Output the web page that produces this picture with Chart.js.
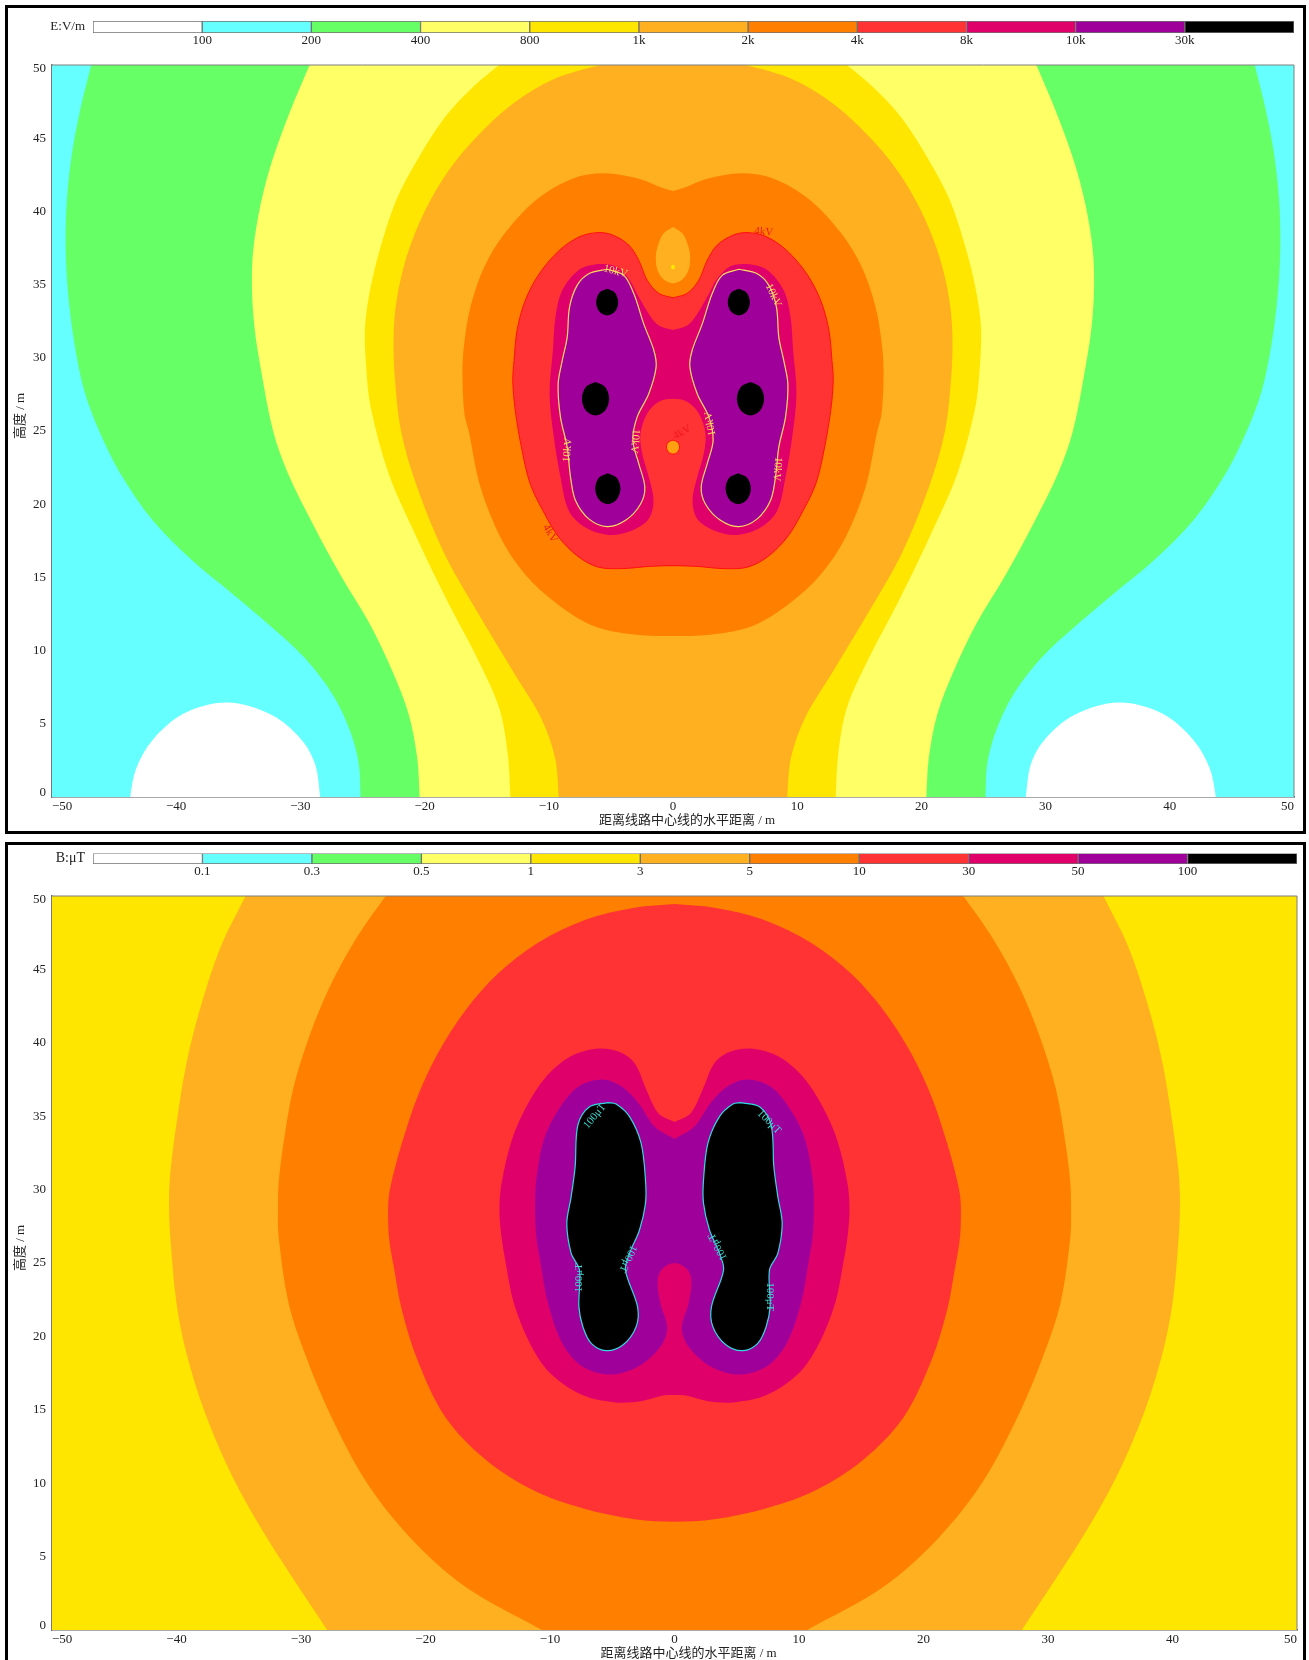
<!DOCTYPE html>
<html><head><meta charset="utf-8">
<script src="https://cdn.jsdelivr.net/npm/chart.js@4"></script>
<style>
html,body{margin:0;padding:0;background:#fff;width:1309px;height:1660px;overflow:hidden}
.frame{position:absolute;box-sizing:border-box;border:3px solid #000;background:#fff}
canvas{position:absolute;left:0}
</style></head><body>
<div class="frame" style="left:5px;top:5px;width:1301px;height:829px"></div>
<div class="frame" style="left:5px;top:842px;width:1301px;height:830px"></div>
<canvas id="barE" width="1309" height="60" style="top:0"></canvas>
<canvas id="mapE" width="1309" height="835" style="top:0"></canvas>
<canvas id="barB" width="1309" height="60" style="top:837px"></canvas>
<canvas id="mapB" width="1309" height="823" style="top:837px"></canvas>
<script>
// ---- colour bands (legend order) ----
const bandColors = ['#FFFFFF','#66FFFF','#66FF66','#FFFF66','#FFE600','#FFB020','#FF8000','#FF3333','#E0006A','#A0009A','#000000'];
const ticksE = ['100','200','400','800','1k','2k','4k','8k','10k','30k'];
const ticksB = ['0.1','0.3','0.5','1','3','5','10','30','50','100'];
const xTicks = [-50,-40,-30,-20,-10,0,10,20,30,40,50];
const yTicks = [0,5,10,15,20,25,30,35,40,45,50];
const xTitle = '距离线路中心线的水平距离 / m';
const yTitle = '高度 / m';

// ---- E field contours: right half, from the centre line at the top to the centre line at the bottom ----
const e200 = [[0,60],[44,56],[46.2,52.2],[46.84,50],[47.74,46.9],[48.4,43.9],[48.8,40.75],[48.9,37.6],[48.7,34.4],[48.2,31],[47.4,27.75],[46.2,25],[44.5,22.1],[41.9,18.9],[38.7,16.15],[35.5,13.9],[32.3,11.6],[29.7,9.55],[27.4,7],[26,4.5],[25.3,2.25],[25.16,0],[25.1,-2],[24,-4],[0,-6]];
const e400 = [[0,60],[26,56],[28.26,52],[29.26,50],[30.8,46.9],[32.26,43.5],[33.2,40.5],[33.8,37.35],[33.9,34.8],[33.7,32.1],[33.2,29.3],[32.2,25],[31,22.1],[29,18.65],[26.8,15.2],[24.4,11.8],[22.6,8.6],[21.3,5.7],[20.6,2.7],[20.4,0],[20.3,-2],[19,-4],[0,-6]];
const e800 = [[0,60],[9,53],[12,51.4],[14,50],[16.1,48.5],[18.4,46.4],[20.6,43.5],[22.3,40.75],[23.55,37.55],[24.35,34.8],[24.8,32.1],[24.7,29.35],[24.35,26.65],[22.9,22.1],[20.65,17.75],[18.06,13.2],[15.8,9.55],[14,6.1],[13.3,2.9],[13.1,0],[13,-2],[12,-4],[0,-6]];
const e1k  = [[0,50.6],[3,50.4],[5.8,50],[9.7,49],[12.9,47.35],[15.8,45.1],[18.06,42.8],[20,40],[21.45,36.9],[22.26,33.9],[22.5,31.4],[22.4,28.7],[21.9,25],[20.6,21.15],[18.4,16.6],[15.8,12.7],[12.9,8.6],[10.65,5.44],[9.5,2.7],[9.2,0],[9.1,-2],[8,-4],[0,-6]];
const e2k  = [[0,41.4],[1,41.65],[2.6,42.2],[5.5,42.6],[8.06,42.25],[11,40.8],[13.55,38.5],[15.2,36.2],[16.3,33.5],[16.85,30.7],[16.95,28.7],[16.8,26.2],[16.45,25],[15.5,21.15],[13.9,17.75],[11.9,15.2],[9.35,13.2],[6.45,11.7],[3.2,11.1],[0,11]];
const e2kHoleTop = [[0,38.93],[0.75,38.5],[1.2,37.7],[1.38,36.9],[1.25,36],[0.75,35.35],[0,35.1]];
const e4k  = [[0,34.1],[1.14,34.4],[2.08,35.3],[2.75,36.65],[3.56,37.7],[4.9,38.4],[6.1,38.55],[7.58,38.25],[9.2,37.3],[10.8,35.7],[11.9,33.9],[12.55,31.9],[12.8,29.8],[12.9,28.45],[12.7,26.4],[12.15,23.65],[11.5,21.4],[10.5,19.6],[9.2,17.75],[7.6,16.4],[6,15.7],[4.1,15.6],[1.95,15.75],[0,15.8]];
const e8k  = [[0,31.9],[1.14,32.2],[1.95,33],[2.75,34.15],[3.56,35.4],[4.63,36.25],[5.97,36.4],[7.58,36],[8.92,34.6],[9.46,32.8],[9.67,30.5],[9.94,27.55],[9.6,24.6],[9.06,21.85],[8.39,19.55],[7.05,18.4],[5.17,17.9],[3.29,18.2],[1.95,19],[1.57,20.25],[1.95,21.85],[2.48,23.45],[2.62,24.8],[2.08,26.2],[1.14,27],[0,27.2]];
const e10kLobe = [[5.3,36.05],[6.78,35.74],[7.72,34.95],[8.33,33.46],[8.52,31.4],[8.92,29.8],[9.25,28.2],[9.06,25.95],[8.52,23.9],[8.25,21.85],[7.85,20.25],[6.78,19],[5.3,18.47],[3.82,18.9],[2.62,20],[2.27,21.16],[2.75,22.75],[3.23,24.35],[2.89,25.95],[1.95,27.54],[1.36,29.36],[1.54,30.5],[2.35,32.3],[3.15,34.37],[3.96,35.63],[5.3,36.05]];
const eWhite = [[28.4,0],[28.8,2.2],[29.9,3.9],[32.3,5.6],[35.9,6.45],[39.4,5.7],[41.9,3.9],[43.2,2],[43.7,0],[43.75,-1.5],[36,-5],[28.35,-1.5],[28.4,0]];
const eConductors = [[5.3,33.8,0.89,0.91],[6.24,27.2,1.1,1.14],[5.25,21.07,1.02,1.05]];
const eLowSpot = [0,23.9,0.53,0.48];
const eHighSpot = [0,36.2,0.16,0.16];
const eLabels = [['10kV',-4.63,35.9,15,'y'],['10kV',8.07,34.26,65,'y'],['10kV',-8.47,23.7,-85,'y'],['10kV',-3.07,24.3,95,'y'],['10kV',3.02,25.5,-100,'y'],['10kV',8.39,22.4,95,'y'],['4kV',7.3,38.6,5,'r'],['4kV',0.75,24.9,-30,'r'],['4kV',-9.9,18,60,'r']];

// ---- B field contours ----
const b3   = [[0,60],[30,56.5],[33,52.5],[34.45,50],[36.45,46.55],[38.06,42.45],[39.2,38.6],[40,34.5],[40.5,31.1],[40.6,29.06],[40.5,26.8],[40,22.25],[39.2,18.85],[37.7,14.76],[35.5,10.44],[32.9,6.5],[30.4,3.2],[27.9,0],[26.4,-2],[23,-5],[0,-7]];
const b5   = [[0,60],[18,55.5],[21.2,52.4],[23.2,50],[25.5,47.2],[27.7,43.8],[29.35,40.4],[30.65,36.8],[31.45,32.9],[31.8,30.4],[31.85,28.8],[31.8,26.8],[31,22.25],[29.7,18.85],[27.7,14.76],[24.84,10.2],[21.3,6.36],[16.8,2.95],[10.65,0],[6.5,-2],[0,-3]];
const b10  = [[0,49.45],[3.2,49.2],[7.1,48.4],[11,46.8],[14.2,44.7],[16.8,42.2],[19,39.3],[20.65,36.3],[21.9,33.15],[22.6,31],[22.95,29.5],[23,28],[22.9,26.5],[22.5,24.5],[21.9,21.8],[20.65,18.4],[18.4,14.5],[15.16,11.6],[11.3,9.5],[7.4,8.3],[3.2,7.55],[0,7.38]];
const b30  = [[0,34.6],[1.3,35.2],[2.26,36.8],[3.2,38.6],[4.5,39.4],[6.3,39.6],[8.4,39.05],[10.3,37.7],[11.9,35.65],[13.06,33.4],[13.9,30.4],[14.06,28.6],[13.9,26.8],[13.6,25.2],[12.9,22.25],[11.6,19.5],[10,17.5],[7.4,16],[4.7,15.5],[2.6,15.6],[1,15.95],[0,16]];
const b50  = [[0,33.45],[1.6,34.3],[2.9,35.9],[4.2,37],[5.8,37.5],[7.74,37],[9.35,35.4],[10.5,33.4],[11.1,30.7],[11.2,28.85],[11.1,26.8],[10.8,25.2],[10.16,22.25],[9,19.5],[7.4,17.95],[5.16,17.4],[2.9,17.95],[1.13,19.3],[0.58,20.55],[1.13,22.25],[1.35,23.85],[0.97,24.6],[0,25]];
const b100Lobe = [[5.35,35.92],[6.83,35.65],[7.76,34.4],[7.98,31.56],[8.3,29.52],[8.65,27.7],[8.3,25.66],[7.63,24.52],[7.68,22.03],[7.36,20.66],[6.69,19.53],[5.49,19.03],[4.15,19.41],[3.08,20.66],[2.97,22.03],[3.94,24.52],[3.61,25.66],[2.81,27.25],[2.33,29.06],[2.33,30.65],[2.68,33.15],[3.61,34.97],[4.69,35.83],[5.35,35.92]];
const bLabels = [['100μT',-6.4,35,-50,'c'],['100μT',7.6,34.6,45,'c'],['100μT',-3.75,25.3,115,'c'],['100μT',-7.7,24,-90,'c'],['100μT',3.48,26.1,-118,'c'],['100μT',7.7,22.7,90,'c']];
const sheet = [[-60,-10],[60,-10],[60,60],[-60,60]];

const FONT = '"Liberation Serif","Noto Sans CJK SC",serif';
const pts = a => a.map(p => ({x:p[0],y:p[1]}));
const mirror = a => a.map(p => [-p[0],p[1]]);
const sym = half => { const back = mirror(half).reverse().slice(1); return half.concat(back); };
const blob = c => { const [x,y,a,b]=c, k=0.707; return [[x,y+b],[x+a*k,y+b*k],[x+a,y],[x+a*k,y-b*k],[x,y-b],[x-a*k,y-b*k],[x-a,y],[x-a*k,y+b*k],[x,y+b]]; };
const area = (poly,color,line,lw,straight) => ({
  data: pts(poly), showLine:true, fill:'shape', backgroundColor:color,
  borderColor: line||'transparent', borderWidth: line?(lw||1):0,
  tension: straight?0:0.33, pointRadius:0, pointHoverRadius:0, capBezierPoints:false
});

const LABEL = {y:'#F8DC60', r:'#F01818', c:'#40D8D0'};
const panelDecor = (labels) => ({
  id:'decor',
  beforeDraw(ch){
    // the end labels of the height axis sit inside the axis span, as the x axis labels do
    const items = ch.scales.y.getLabelItems();
    items.forEach(it=>{
      if(it.label==='50') it.options.translation[1]+=4;
      if(it.label==='0') it.options.translation[1]-=4;
    });
  },
  afterDatasetsDraw(ch){
    const {ctx,chartArea:a,scales:s}=ch;
    ctx.save();
    ctx.strokeStyle='#7f7f7f';ctx.lineWidth=1;
    ctx.beginPath();ctx.moveTo(a.left,a.top);ctx.lineTo(a.right,a.top);ctx.lineTo(a.right,a.bottom);ctx.stroke();
    ctx.textAlign='center';ctx.textBaseline='middle';ctx.font='11px '+FONT;
    labels.forEach(l=>{
      ctx.save();ctx.translate(s.x.getPixelForValue(l[1]),s.y.getPixelForValue(l[2]));
      ctx.rotate(l[3]*Math.PI/180);ctx.fillStyle=LABEL[l[4]];ctx.fillText(l[0],0,0);ctx.restore();
    });
    ctx.restore();
  },
  afterDraw(ch){
    const {ctx,chartArea:a}=ch;
    ctx.save();ctx.fillStyle='#222';ctx.textAlign='center';ctx.textBaseline='middle';
    ctx.font='13px '+FONT;
    ctx.fillText(xTitle,(a.left+a.right)/2+14,a.bottom+24);
    ctx.translate(21,(a.top+a.bottom)/2-15);ctx.rotate(-Math.PI/2);
    ctx.fillText(yTitle,0,0);ctx.restore();
  }
});

function mapChart(id,datasets,pad,labels){
  return new Chart(document.getElementById(id),{
    type:'scatter',
    data:{datasets:datasets.slice().reverse()},
    plugins:[panelDecor(labels)],
    options:{
      responsive:false,animation:false,events:[],
      layout:{autoPadding:false,padding:pad},
      plugins:{legend:{display:false},tooltip:{enabled:false}},
      scales:{
        x:{type:'linear',min:-50,max:50,
           afterBuildTicks:s=>{s.ticks=xTicks.map(v=>({value:v}))},
           afterFit:s=>{s.height=22},
           grid:{display:false,drawOnChartArea:false,drawTicks:true,tickLength:2,tickColor:'#555'},
           border:{display:true,color:'#555',width:1.5},
           ticks:{align:'inner',padding:0,maxRotation:0,autoSkip:false,color:'#222',font:{family:FONT,size:13},callback:v=>String(v).replace('-','−')}},
        y:{type:'linear',min:0,max:50,
           afterBuildTicks:s=>{s.ticks=yTicks.map(v=>({value:v}))},
           afterFit:s=>{s.width=30},
           grid:{display:false,drawOnChartArea:false,drawTicks:true,tickLength:3,tickColor:'#555'},
           border:{display:true,color:'#777',width:1.5},
           ticks:{padding:3,autoSkip:false,color:'#222',font:{family:FONT,size:13}}}
      }
    }
  });
}

function barChart(id,name,tickLabels,pad,nameSize){
  return new Chart(document.getElementById(id),{
    type:'bar',
    data:{labels:[name],datasets:bandColors.map(c=>({data:[1],backgroundColor:c,borderColor:'#707070',borderWidth:1,borderSkipped:false,barPercentage:1,categoryPercentage:1}))},
    options:{
      indexAxis:'y',responsive:false,animation:false,events:[],
      layout:{autoPadding:false,padding:pad},
      plugins:{legend:{display:false},tooltip:{enabled:false}},
      scales:{
        x:{type:'linear',stacked:true,min:0,max:bandColors.length,
           afterBuildTicks:s=>{s.ticks=tickLabels.map((t,i)=>({value:i+1}))},
           afterFit:s=>{s.height=20},
           grid:{display:false,drawTicks:false},border:{display:false},
           ticks:{padding:0,maxRotation:0,autoSkip:false,color:'#222',font:{family:FONT,size:13},callback:v=>tickLabels[v-1]}},
        y:{type:'category',stacked:true,afterFit:s=>{s.width=44},
           grid:{display:false,drawTicks:false},border:{display:false},
           ticks:{padding:8,color:'#222',font:{family:FONT,size:nameSize}}}
      }
    }
  });
}

barChart('barE','E:V/m',ticksE,{left:49,right:15,top:21,bottom:7},13);
barChart('barB','B:μT',ticksB,{left:49,right:12,top:15,bottom:13},14);

mapChart('mapE',[
  area(sheet,bandColors[1],null,0,true),
  area(eWhite,bandColors[0]),
  area(mirror(eWhite),bandColors[0]),
  area(sym(e200),bandColors[2]),
  area(sym(e400),bandColors[3]),
  area(sym(e800),bandColors[4]),
  area(sym(e1k),bandColors[5]),
  area(sym(e2k),bandColors[6]),
  area(sym(e2kHoleTop),bandColors[5]),
  area(blob(eHighSpot),'#FFE600'),
  area(sym(e4k),bandColors[7],'#FF1010',1),
  area(sym(e8k),bandColors[8]),
  area(blob(eLowSpot),'#FFA010','#FF1010',1),
  area(e10kLobe,bandColors[9],'#F8DC60',1.2),
  area(mirror(e10kLobe),bandColors[9],'#F8DC60',1.2),
  ...eConductors.map(c=>area(blob(c),bandColors[10])),
  ...eConductors.map(c=>area(mirror(blob(c)),bandColors[10]))
],{left:22,right:15,top:65,bottom:16},eLabels);

mapChart('mapB',[
  area(sheet,bandColors[4],null,0,true),
  area(sym(b3),bandColors[5]),
  area(sym(b5),bandColors[6]),
  area(sym(b10),bandColors[7]),
  area(sym(b30),bandColors[8]),
  area(sym(b50),bandColors[9]),
  area(b100Lobe,bandColors[10],'#30D8E0',1.2),
  area(mirror(b100Lobe),bandColors[10],'#30D8E0',1.2)
],{left:22,right:12,top:59,bottom:8},bLabels);
</script>
</body></html>
